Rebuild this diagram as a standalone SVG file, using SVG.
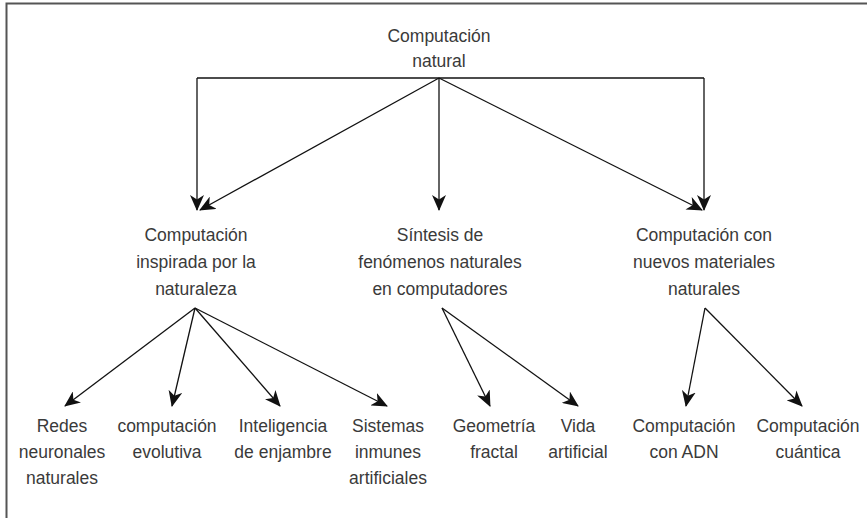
<svg xmlns="http://www.w3.org/2000/svg" width="867" height="518" viewBox="0 0 867 518">
<style>
text{font-family:"Liberation Sans",Arial,sans-serif;font-size:17.5px;fill:#3a3a3a;text-anchor:middle}
.c{fill:none;stroke:#111;stroke-width:1.3}
.a{marker-end:url(#ah)}
.frame{fill:none;stroke:#555;stroke-width:2}
</style>
<defs>
<marker id="ah" viewBox="0 0 16 14" refX="15" refY="7" markerWidth="16" markerHeight="14" orient="auto" markerUnits="userSpaceOnUse">
<path d="M0,0 L16,7 L0,14 L4.5,7 z" fill="#111"/>
</marker>
</defs>
<path class="frame" d="M6.5,518 V3.5 H867"/>
<g id="connectors">
<path class="c" d="M197,78 H704"/>
<path class="c a" d="M197,78 V210"/>
<path class="c a" d="M439,78 V210"/>
<path class="c a" d="M704,78 V210"/>
<path class="c a" d="M439,78 L200,210"/>
<path class="c a" d="M439,78 L702,210"/>
<path class="c a" d="M195,308 L65,406"/>
<path class="c a" d="M195,308 L172,406"/>
<path class="c a" d="M195,308 L280,406"/>
<path class="c a" d="M195,308 L387,406"/>
<path class="c a" d="M442,308 L490,406"/>
<path class="c a" d="M442,308 L578,406"/>
<path class="c a" d="M705,308 L686,406"/>
<path class="c a" d="M705,308 L802,406"/>
</g>
<g id="n-root"><text x="439" y="42">Computación</text><text x="439" y="67">natural</text></g>
<g id="n-inspirada"><text x="196" y="241">Computación</text><text x="196" y="268">inspirada por la</text><text x="196" y="295">naturaleza</text></g>
<g id="n-sintesis"><text x="440" y="241">Síntesis de</text><text x="440" y="268">fenómenos naturales</text><text x="440" y="295">en computadores</text></g>
<g id="n-materiales"><text x="704" y="241">Computación con</text><text x="704" y="268">nuevos materiales</text><text x="704" y="295">naturales</text></g>
<g id="n-redes"><text x="62" y="432">Redes</text><text x="62" y="458">neuronales</text><text x="62" y="484">naturales</text></g>
<g id="n-evolutiva"><text x="167" y="432">computación</text><text x="167" y="458">evolutiva</text></g>
<g id="n-enjambre"><text x="283" y="432">Inteligencia</text><text x="283" y="458">de enjambre</text></g>
<g id="n-inmunes"><text x="388" y="432">Sistemas</text><text x="388" y="458">inmunes</text><text x="388" y="484">artificiales</text></g>
<g id="n-fractal"><text x="494" y="432">Geometría</text><text x="494" y="458">fractal</text></g>
<g id="n-vida"><text x="578" y="432">Vida</text><text x="578" y="458">artificial</text></g>
<g id="n-adn"><text x="684" y="432">Computación</text><text x="684" y="458">con ADN</text></g>
<g id="n-cuantica"><text x="808" y="432">Computación</text><text x="808" y="458">cuántica</text></g>
</svg>
